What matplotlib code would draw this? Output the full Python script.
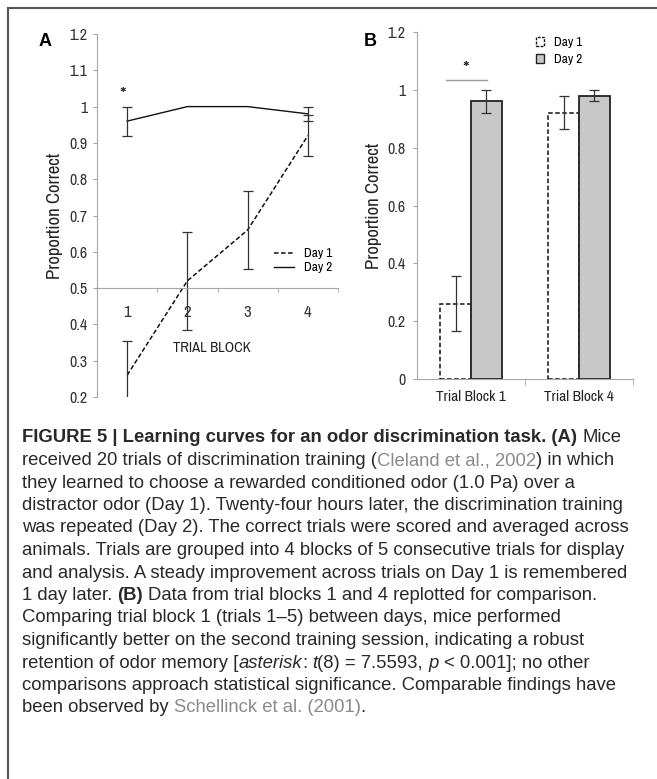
import matplotlib
matplotlib.use('Agg')
import matplotlib.pyplot as plt
from matplotlib import font_manager
from matplotlib.lines import Line2D
from matplotlib.patches import Patch
import numpy as np

# data
blocks = [1, 2, 3, 4]
day1_mean = [0.26, 0.52, 0.66, 0.92]
day1_err = [0.095, 0.135, 0.107, 0.057]
day2_mean = [0.96, 1.0, 1.0, 0.98]
day2_err = [0.04, 0.0, 0.0, 0.02]

bar_labels = ['Trial Block 1', 'Trial Block 4']
bar_day1 = [0.26, 0.92]
bar_day1_err = [0.095, 0.057]
bar_day2 = [0.96, 0.98]
bar_day2_err = [0.04, 0.02]

W, H = 657, 779
names = {f.name for f in font_manager.fontManager.ttflist}
chart_font = next((f for f in ['Archivo Narrow', 'Carlito', 'DejaVu Sans'] if f in names), 'DejaVu Sans')
plt.rcParams['font.family'] = [chart_font, 'DejaVu Sans']

fig = plt.figure(figsize=(W / 100, H / 100), dpi=100)

axis_gray = '#a6a6a6'
tick_col = '#333333'


def px(x0, y_top, x1, y_bot):
    return [x0 / W, 1 - y_bot / H, (x1 - x0) / W, (y_bot - y_top) / H]


# ---- panel A
axA = fig.add_axes(px(97, 34, 338, 397))
axA.set_xlim(0.5, 4.5)
axA.set_ylim(0.2, 1.2)
for s in ['top', 'right']:
    axA.spines[s].set_visible(False)
axA.spines['bottom'].set_position(('data', 0.5))
axA.spines['left'].set_color(axis_gray)
axA.spines['bottom'].set_color(axis_gray)

yt = np.round(np.arange(0.2, 1.21, 0.1), 1)
axA.set_yticks(yt)
axA.set_yticklabels(['1' if v == 1.0 else f'{v:g}' for v in yt])
axA.tick_params(axis='y', length=3, color=axis_gray, labelsize=11.5, labelcolor=tick_col, pad=4)
axA.set_xticks(blocks)
axA.set_xticklabels([str(b) for b in blocks])
axA.set_xticks([1.5, 2.5, 3.5, 4.5], minor=True)
axA.tick_params(axis='x', which='major', length=0, labelsize=12, labelcolor=tick_col, pad=12)
axA.tick_params(axis='x', which='minor', length=3, color=axis_gray)

axA.plot(blocks, day1_mean, color='#111111', lw=1.1, ls=(0, (3, 1.6)), label='Day 1')
axA.plot(blocks, day2_mean, color='#111111', lw=1.0, label='Day 2')
axA.errorbar(blocks, day1_mean, yerr=day1_err, fmt='none', ecolor='#333333',
             elinewidth=0.9, capsize=3.5, capthick=0.9)
m = np.array(day2_err) > 0
axA.errorbar(np.array(blocks)[m], np.array(day2_mean)[m], yerr=np.array(day2_err)[m],
             fmt='none', ecolor='#333333', elinewidth=0.9, capsize=3.5, capthick=0.9)
axA.text(0.93, 1.03, '*', ha='center', va='center', fontsize=15, color='#222222')
axA.set_ylabel('Proportion Correct', fontsize=13.5, color='#222222', labelpad=4)
axA.text(2.4, 0.335, 'TRIAL BLOCK', ha='center', va='center', fontsize=10.5, color='#222222')
axA.legend(loc='upper left', bbox_to_anchor=(0.735, 0.41), frameon=False, fontsize=9.5,
           handlelength=1.5, handletextpad=0.8, labelspacing=0.2, borderpad=0, borderaxespad=0)

# ---- panel B
axB = fig.add_axes(px(417, 32, 633, 379))
axB.set_xlim(0.5, 2.5)
axB.set_ylim(0, 1.2)
for s in ['top', 'right']:
    axB.spines[s].set_visible(False)
axB.spines['left'].set_color(axis_gray)
axB.spines['bottom'].set_color(axis_gray)
ybt = np.round(np.arange(0, 1.21, 0.2), 1)
axB.set_yticks(ybt)
axB.set_yticklabels(['0' if v == 0 else '1' if v == 1.0 else f'{v:g}' for v in ybt])
axB.tick_params(axis='y', length=3, color=axis_gray, labelsize=11.5, labelcolor=tick_col, pad=5)
xb = np.arange(1, len(bar_labels) + 1)
axB.set_xticks(xb)
axB.set_xticklabels(bar_labels)
axB.set_xticks([1.5, 2.5], minor=True)
axB.tick_params(axis='x', which='major', length=0, labelsize=11, labelcolor='#222222', pad=8)
axB.tick_params(axis='x', which='minor', length=4, color=axis_gray)

bw = 0.287
axB.bar(xb - bw / 2, bar_day1, bw, color='white', edgecolor='#111111', lw=1.1, ls=(0, (3, 1.6)))
axB.bar(xb + bw / 2, bar_day2, bw, color='#c8c8c8', edgecolor='#222222', lw=1.3)
axB.errorbar(xb - bw / 2, bar_day1, yerr=bar_day1_err, fmt='none', ecolor='#333333',
             elinewidth=0.9, capsize=3.5, capthick=0.9)
axB.errorbar(xb + bw / 2, bar_day2, yerr=bar_day2_err, fmt='none', ecolor='#333333',
             elinewidth=0.9, capsize=3.5, capthick=0.9)
axB.plot([0.77, 1.15], [1.034, 1.034], color='#9a9a9a', lw=1)
axB.text(0.955, 1.07, '*', ha='center', va='center', fontsize=15, color='#222222')
axB.set_ylabel('Proportion Correct', fontsize=13.5, color='#222222', labelpad=4)
hB = [Patch(facecolor='white', edgecolor='#111111', ls=(0, (2, 1)), lw=1.0),
      Patch(facecolor='#c8c8c8', edgecolor='#222222', lw=1.0)]
axB.legend(hB, ['Day 1', 'Day 2'], loc='upper left', bbox_to_anchor=(0.55, 0.985), frameon=False,
           fontsize=9.5, handlelength=0.65, handleheight=0.65, handletextpad=0.7,
           labelspacing=0.45, borderpad=0, borderaxespad=0)

fig.text(45 / W, 1 - 42 / H, 'A', family='Liberation Sans', weight='bold', fontsize=13,
         ha='center', va='center')
fig.text(370 / W, 1 - 42 / H, 'B', family='Liberation Sans', weight='bold', fontsize=13,
         ha='center', va='center')

# frame lines of the figure box
fig.add_artist(Line2D([8 / W, 1], [1 - 8 / H, 1 - 8 / H], color='#555555', lw=1.5))
fig.add_artist(Line2D([8 / W, 8 / W], [0, 1 - 8 / H], color='#555555', lw=1.5))

# ---- caption
cap_font = 'Liberation Sans'
cap_col = '#2b2829'
ref_col = '#8a8a8a'
R, B_, I_, G = 'r', 'b', 'i', 'g'
caption = [
    [('FIGURE 5 | Learning curves for an odor discrimination task. (A)', B_), (' Mice', R)],
    [('received 20 trials of discrimination training (', R), ('Cleland et al., 2002', G), (') in which', R)],
    [('they learned to choose a rewarded conditioned odor (1.0 Pa) over a', R)],
    [('distractor odor (Day 1). Twenty-four hours later, the discrimination training', R)],
    [('was repeated (Day 2). The correct trials were scored and averaged across', R)],
    [('animals. Trials are grouped into 4 blocks of 5 consecutive trials for display', R)],
    [('and analysis. A steady improvement across trials on Day 1 is remembered', R)],
    [('1 day later. ', R), ('(B)', B_), (' Data from trial blocks 1 and 4 replotted for comparison.', R)],
    [('Comparing trial block 1 (trials 1\u20135) between days, mice performed', R)],
    [('significantly better on the second training session, indicating a robust', R)],
    [('retention of odor memory [', R), ('asterisk', I_), (': ', R), ('t', I_), ('(8) = 7.5593, ', R),
     ('p', I_), (' < 0.001]; no other', R)],
    [('comparisons approach statistical significance. Comparable findings have', R)],
    [('been observed by ', R), ('Schellinck et al. (2001)', G), ('.', R)],
]

renderer = fig.canvas.get_renderer()
cap_size = 11.0


def style(kind):
    d = dict(family=cap_font, fontsize=cap_size, color=cap_col)
    if kind == B_:
        d['weight'] = 'bold'
    if kind == I_:
        d['style'] = 'italic'
    if kind == G:
        d['color'] = ref_col
    return d


def width(s, kind):
    t = fig.text(0, 0, s, **style(kind))
    w = t.get_window_extent(renderer).width
    t.remove()
    return w


# size the caption so the widest line spans like in the print
cap_size = cap_size * 601.0 / width(caption[3][0][0], R)
space_w = {k: width('a a', k) - width('aa', k) for k in [R, B_, I_, G]}

y0, dy = 438, 22.5
for i, line in enumerate(caption):
    x = 22.0
    y = 1 - (y0 + i * dy) / H
    for s, kind in line:
        lead = len(s) - len(s.lstrip(' '))
        trail = len(s) - len(s.rstrip(' '))
        core = s.strip(' ')
        x += lead * space_w[kind]
        if core:
            fig.text(x / W, y, core, va='center', ha='left', **style(kind))
            x += width(core, kind)
        x += trail * space_w[kind]

fig.savefig('out.png', dpi=100)
